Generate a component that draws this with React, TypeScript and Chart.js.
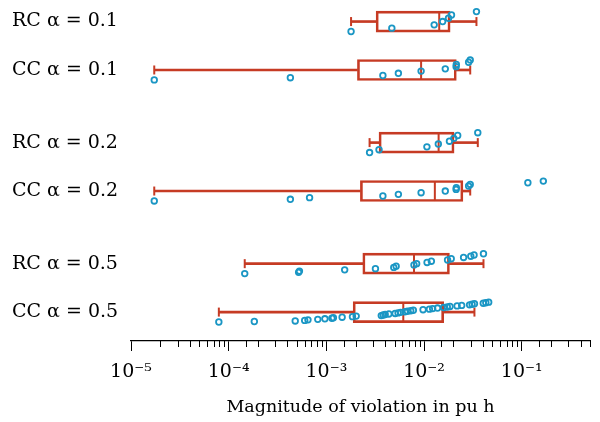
import { useEffect, useRef } from 'react';
import { Chart, registerables } from 'chart.js';

Chart.register(...registerables);

// ---- data ----
const rowLabels = ['RC α = 0.1', 'CC α = 0.1', 'RC α = 0.2', 'CC α = 0.2', 'RC α = 0.5', 'CC α = 0.5'];
const rowPositions = [6, 5, 3.5, 2.5, 1, 0];

const whiskerLow = [1.79e-3, 1.73e-5, 2.77e-3, 1.73e-5, 1.46e-4, 7.93e-5];
const quartile1 = [3.23e-3, 2.08e-3, 3.46e-3, 2.23e-3, 2.36e-3, 1.88e-3];
const medians = [0.0143, 9.33e-3, 0.0141, 0.0129, 7.89e-3, 6.13e-3];
const quartile3 = [0.0185, 0.0214, 0.0203, 0.025, 0.0182, 0.0159];
const whiskerHigh = [0.0344, 0.0297, 0.0355, 0.0297, 0.0406, 0.0328];

const samplesRC01 = [1.79e-3, 4.68e-3, 0.0127, 0.0155, 0.0178, 0.0191, 0.0344];
const samplesCC01 = [1.73e-5, 4.28e-4, 3.79e-3, 5.46e-3, 9.33e-3, 0.0165, 0.0213, 0.0214, 0.0286, 0.0297];
const samplesRC02 = [2.77e-3, 3.46e-3, 0.0107, 0.014, 0.0182, 0.0202, 0.0221, 0.0355];
const samplesCC02 = [1.73e-5, 4.28e-4, 6.73e-4, 3.79e-3, 5.46e-3, 9.33e-3, 0.0165, 0.0213, 0.0214, 0.0286, 0.0297, 0.1156, 0.1664];
const samplesRC05 = [1.46e-4, 5.2e-4, 5.3e-4, 1.54e-3, 3.18e-3, 4.9e-3, 5.18e-3, 7.89e-3, 8.4e-3, 0.01074, 0.01188, 0.01741, 0.01897, 0.0254, 0.0301, 0.0325, 0.0406];
const samplesCC05 = [7.93e-5, 1.83e-4, 4.8e-4, 6.0e-4, 6.48e-4, 8.17e-4, 9.66e-4, 1.14e-3, 1.18e-3, 1.45e-3, 1.85e-3, 2.02e-3, 3.65e-3, 3.82e-3, 4.0e-3, 4.36e-3, 5.06e-3, 5.42e-3, 5.75e-3, 6.37e-3, 6.76e-3, 7.31e-3, 7.77e-3, 9.77e-3, 0.01135, 0.01225, 0.01374, 0.0159, 0.0173, 0.01844, 0.02179, 0.02428, 0.02924, 0.03105, 0.0328, 0.0404, 0.0429, 0.0459];
const samplesByRow = [samplesRC01, samplesCC01, samplesRC02, samplesCC02, samplesRC05, samplesCC05];

const xMin = 1e-5;
const xMax = 0.5;
const axisTitle = 'Magnitude of violation in pu h';

// ---- style ----
const RED = '#c63b24';
const BLUE = '#1a96c4';
const FONT = 'DejaVu Serif';

const SUP: Record<string, string> = { '-': '⁻', '0': '⁰', '1': '¹', '2': '²', '3': '³', '4': '⁴', '5': '⁵', '6': '⁶', '7': '⁷', '8': '⁸', '9': '⁹' };
const isDecade = (v: number) => Math.abs(Math.log10(v) - Math.round(Math.log10(v))) < 1e-9;

const minorTicks = {
  id: 'minorTicks',
  afterDraw(chart: any) {
    const xs = chart.scales.x;
    const ctx = chart.ctx;
    ctx.save();
    ctx.strokeStyle = '#000';
    ctx.lineWidth = 1;
    ctx.beginPath();
    xs.ticks.forEach((t: any) => {
      if (isDecade(t.value)) return;
      const px = Math.round(xs.getPixelForValue(t.value)) + 0.5;
      ctx.moveTo(px, xs.top);
      ctx.lineTo(px, xs.top + 6);
    });
    ctx.stroke();
    ctx.restore();
  },
};

export default function App() {
  const ref = useRef<HTMLCanvasElement>(null);
  useEffect(() => {
    if (!ref.current) return;
    const points: { x: number; y: number }[] = [];
    samplesByRow.forEach((s, r) => {
      const sorted = [...s].sort((a, b) => a - b);
      const n = sorted.length;
      sorted.forEach((v, i) => {
        const off = n > 1 ? -0.205 + (0.41 * i) / (n - 1) : 0;
        points.push({ x: v, y: rowPositions[r] + off });
      });
    });
    const boxes = rowPositions.map((p, i) => ({ x: [quartile1[i], quartile3[i]], y: p }));
    const lowWhisk = rowPositions.map((p, i) => ({ x: [whiskerLow[i], quartile1[i]], y: p }));
    const highWhisk = rowPositions.map((p, i) => ({ x: [quartile3[i], whiskerHigh[i]], y: p }));
    const caps = [
      ...rowPositions.map((p, i) => ({ x: whiskerLow[i], y: p })),
      ...rowPositions.map((p, i) => ({ x: whiskerHigh[i], y: p })),
    ];
    const meds = rowPositions.map((p, i) => ({ x: medians[i], y: p }));

    const chart = new Chart(ref.current, {
      type: 'scatter',
      data: {
        datasets: [
          {
            type: 'scatter',
            data: points,
            order: 0,
            pointStyle: 'circle',
            pointRadius: 2.8,
            pointBorderWidth: 1.8,
            borderColor: BLUE,
            backgroundColor: 'rgba(0,0,0,0)',
            clip: false,
          } as any,
          {
            type: 'scatter',
            data: meds,
            order: 1,
            pointStyle: 'line',
            rotation: 90,
            pointRadius: 10,
            pointBorderWidth: 2,
            borderColor: RED,
          } as any,
          {
            type: 'scatter',
            data: caps,
            order: 2,
            pointStyle: 'line',
            rotation: 90,
            pointRadius: 4.5,
            pointBorderWidth: 2,
            borderColor: RED,
          } as any,
          {
            type: 'bar',
            indexAxis: 'y',
            data: boxes,
            order: 3,
            grouped: false,
            barThickness: 21,
            borderWidth: 2,
            borderSkipped: false,
            borderColor: RED,
            backgroundColor: 'rgba(0,0,0,0)',
          } as any,
          {
            type: 'bar',
            indexAxis: 'y',
            data: lowWhisk,
            order: 4,
            grouped: false,
            barThickness: 2,
            borderWidth: 0,
            backgroundColor: RED,
          } as any,
          {
            type: 'bar',
            indexAxis: 'y',
            data: highWhisk,
            order: 4,
            grouped: false,
            barThickness: 2,
            borderWidth: 0,
            backgroundColor: RED,
          } as any,
        ],
      },
      options: {
        animation: false,
        responsive: false,
        layout: { autoPadding: false, padding: { left: 12, right: 0, top: 0, bottom: 0 } },
        plugins: { legend: { display: false }, tooltip: { enabled: false } },
        scales: {
          x: {
            type: 'logarithmic',
            min: xMin,
            max: xMax,
            offset: false,
            border: { display: true, color: '#000', width: 1.3 },
            grid: {
              display: true,
              offset: false,
              drawOnChartArea: false,
              drawTicks: true,
              tickLength: 10,
              tickWidth: 1,
              tickColor: (c: any) => (c.tick && isDecade(c.tick.value) ? '#000' : 'rgba(0,0,0,0)'),
            },
            ticks: {
              autoSkip: false,
              maxRotation: 0,
              minRotation: 0,
              padding: 10,
              color: '#000',
              font: { family: FONT, size: 19 },
              callback: (v: any) => {
                const n = Number(v);
                if (!isDecade(n)) return '';
                const e = String(Math.round(Math.log10(n)));
                return '10' + e.split('').map((ch) => SUP[ch] || ch).join('');
              },
            },
            title: {
              display: true,
              text: axisTitle,
              color: '#000',
              font: { family: FONT, size: 17.5 },
              padding: { top: 0, bottom: 4 },
            },
            afterFit: (s: any) => {
              s.height = 81;
            },
          },
          y: {
            type: 'linear',
            min: -0.597,
            max: 6.445,
            offset: false,
            grid: { display: false, offset: false },
            border: { display: false },
            afterBuildTicks: (s: any) => {
              s.ticks = rowPositions.map((v) => ({ value: v }));
            },
            ticks: {
              autoSkip: false,
              crossAlign: 'far',
              color: '#000',
              font: { family: FONT, size: 19 },
              callback: (v: any) => {
                const i = rowPositions.indexOf(Number(v));
                return i >= 0 ? rowLabels[i] : '';
              },
            },
            afterFit: (s: any) => {
              s.width = 119;
              s.paddingTop = 0;
              s.paddingBottom = 0;
            },
          },
        },
      } as any,
      plugins: [minorTicks],
    });
    return () => chart.destroy();
  }, []);
  return (
    <div style={{ position: 'fixed', left: 0, top: 0, width: 600, height: 422, background: '#fff' }}>
      <canvas ref={ref} width={600} height={422} style={{ display: 'block' }} />
    </div>
  );
}
